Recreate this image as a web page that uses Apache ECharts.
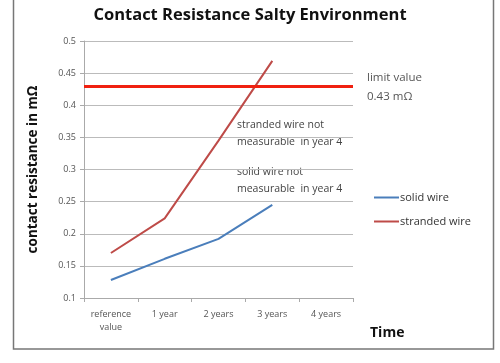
<!DOCTYPE html>
<html><head><meta charset="utf-8">
<script src="https://cdn.jsdelivr.net/npm/echarts@6/dist/echarts.min.js"></script>
<style>html,body{margin:0;padding:0;background:#fff}#c{width:500px;height:363px}</style>
</head><body><div id="c"></div>
<script>
const categories = ['reference\nvalue', '1 year', '2 years', '3 years', '4 years'];
const solidWire = [0.128, 0.161, 0.192, 0.245, null];
const strandedWire = [0.170, 0.224, 0.345, 0.469, null];
const limitValue = 0.43;
const yTicks = [0.1, 0.15, 0.2, 0.25, 0.3, 0.35, 0.4, 0.45, 0.5];

const chart = echarts.init(document.getElementById('c'), null, {renderer: 'canvas'});
const font = 'Open Sans';
chart.setOption({
  animation: false,
  title: {text: 'Contact Resistance Salty Environment', left: 'center', top: 2,
    textStyle: {fontFamily: font, fontSize: 16.5, fontWeight: 'bold', color: '#111'}},
  grid: {left: 84, right: 147, top: 41, bottom: 65},
  legend: {
    orient: 'vertical', left: 369, top: 187, itemWidth: 25, itemHeight: 2, itemGap: 13,
    icon: 'rect',
    textStyle: {fontFamily: font, fontSize: 11, color: '#333', padding: [0, 0, 0, -4]},
    data: ['solid wire', 'stranded wire']
  },
  xAxis: {
    type: 'category', data: categories, boundaryGap: true,
    axisLine: {lineStyle: {color: '#aaa', width: 1}},
    axisTick: {show: true, alignWithLabel: false, length: 4, lineStyle: {color: '#aaa'}},
    axisLabel: {fontFamily: font, fontSize: 9, color: '#555', margin: 10, lineHeight: 13, interval: 0}
  },
  yAxis: {
    type: 'value', min: 0.1, max: 0.5, interval: 0.05,
    name: 'contact resistance in mΩ', nameLocation: 'middle', nameGap: 44,
    nameTextStyle: {fontFamily: font, fontSize: 13.5, fontWeight: 'bold', color: '#111'},
    axisLine: {show: true, lineStyle: {color: '#aaa'}},
    axisTick: {show: true, length: 4, lineStyle: {color: '#aaa'}},
    splitLine: {lineStyle: {color: '#bbb', width: 1}},
    axisLabel: {fontFamily: font, fontSize: 9, color: '#555', margin: 8,
      formatter: v => { const t = yTicks.find(x => Math.abs(x - v) < 1e-9); return t === undefined ? '' : String(t); }}
  },
  series: [
    {name: 'solid wire', type: 'line', data: solidWire, symbol: 'none',
      lineStyle: {color: '#4a7ebb', width: 2}, itemStyle: {color: '#4a7ebb'}},
    {name: 'stranded wire', type: 'line', data: strandedWire, symbol: 'none',
      lineStyle: {color: '#be4b48', width: 2}, itemStyle: {color: '#be4b48'},
      markLine: {silent: true, symbol: 'none', label: {show: false},
        lineStyle: {color: '#f02010', width: 3, type: 'solid'},
        data: [{yAxis: limitValue}]}}
  ],
  graphic: [
    {type: 'rect', shape: {x: 13.5, y: -5, width: 480, height: 354}, silent: true,
      style: {fill: 'none', stroke: '#777', lineWidth: 1.5}},
    {type: 'text', left: 367, top: 68, style: {text: 'limit value\n0.43 mΩ', fontFamily: font, fontSize: 11.5, lineHeight: 19, fill: '#555'}},
    {type: 'text', left: 237, top: 117, style: {text: 'stranded wire not\nmeasurable  in year 4', fontFamily: font, fontSize: 10.5, lineHeight: 17, fill: '#444'}},
    {type: 'text', left: 237, top: 164, style: {text: 'solid wire not\nmeasurable  in year 4', fontFamily: font, fontSize: 10.5, lineHeight: 17, fill: '#444'}},
    {type: 'text', left: 370, top: 326, style: {text: 'Time', fontFamily: font, fontSize: 14, fontWeight: 'bold', fill: '#111'}}
  ]
});
</script></body></html>
